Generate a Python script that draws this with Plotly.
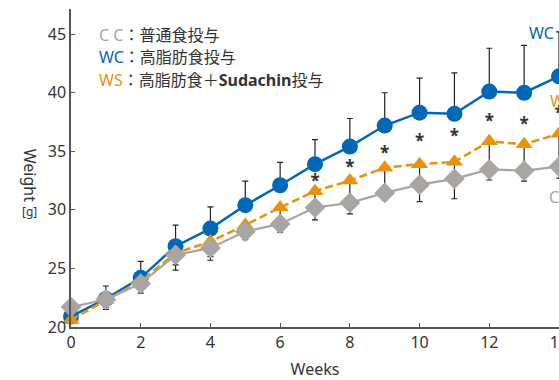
import plotly.graph_objects as go

weeks = list(range(15))

wc_mean = [20.9, 22.4, 24.2, 26.9, 28.4, 30.4, 32.1, 33.9, 35.4, 37.2, 38.3, 38.2, 40.1, 40.0, 41.4]
wc_err = [0.4, 1.1, 1.4, 1.8, 1.85, 2.05, 1.95, 2.1, 2.4, 2.8, 2.95, 3.5, 3.7, 4.05, 3.8]

ws_mean = [20.6, 22.3, 23.9, 26.3, 27.3, 28.7, 30.2, 31.6, 32.5, 33.6, 33.9, 34.1, 35.85, 35.6, 36.5]
ws_err = [0.3, 0.6, 0.7, 1.0, 1.3, 1.05, 1.3, 1.35, 1.7, 2.0, 1.6, 1.4, 2.3, 2.2, 2.7]

cc_mean = [21.7, 22.35, 23.7, 26.15, 26.75, 28.15, 28.8, 30.2, 30.6, 31.45, 32.15, 32.65, 33.45, 33.35, 33.7]
cc_err = [0.3, 0.85, 0.8, 1.3, 1.05, 0.7, 0.7, 1.05, 0.95, 0.6, 1.45, 1.7, 0.9, 0.9, 1.0]

sig_weeks = [7, 8, 9, 10, 11, 12, 13, 14]
sig_y = [32.3, 33.5, 34.7, 35.75, 36.15, 37.4, 37.2, 38.1]

y_ticks = [20, 25, 30, 35, 40, 45]
x_ticks = [0, 2, 4, 6, 8, 10, 12, 14]

legend_lines = [
    ("C C", "#a9a5a3", "：普通食投与"),
    ("WC", "#0068b7", "：高脂肪食投与"),
    ("WS", "#eb920d", "：高脂肪食＋<b>Sudachin</b>投与"),
]

BLUE = "#0068b7"
ORANGE = "#eb920d"
GRAY = "#a9a5a3"
TXT = "#333333"
FONT = "Noto Sans, Noto Sans CJK JP, sans-serif"

W, H = 559, 380
L, R, T, B = 70.7, 0, 9.3, 53.3
PW = W - L - R
PH = H - T - B


def px(x):
    return (x - L) / PW


def py(y):
    return (H - B - y) / PH


fig = go.Figure()

fig.add_trace(go.Scatter(
    x=weeks, y=wc_mean, mode="lines+markers",
    line=dict(color=BLUE, width=2.5),
    marker=dict(symbol="circle", size=16, color=BLUE),
    error_y=dict(type="data", array=wc_err, arrayminus=[0] * len(wc_err),
                 symmetric=False, color="#222", thickness=1.2, width=3),
    cliponaxis=False, showlegend=False,
))
fig.add_trace(go.Scatter(
    x=weeks, y=ws_mean, mode="lines+markers",
    line=dict(color=ORANGE, width=2.5, dash="8px,4px"),
    marker=dict(symbol="triangle-up", size=15, color=ORANGE),
    error_y=dict(type="data", array=[0] * len(ws_err), arrayminus=ws_err,
                 symmetric=False, color="#222", thickness=1.2, width=3),
    cliponaxis=False, showlegend=False,
))
fig.add_trace(go.Scatter(
    x=weeks, y=cc_mean, mode="lines+markers",
    line=dict(color=GRAY, width=2.2),
    marker=dict(symbol="diamond", size=16, color=GRAY),
    error_y=dict(type="data", array=[0] * len(cc_err), arrayminus=cc_err,
                 symmetric=False, color="#222", thickness=1.2, width=3),
    cliponaxis=False, showlegend=False,
))
fig.add_trace(go.Scatter(
    x=sig_weeks, y=sig_y, mode="text", text=["<b>*</b>"] * len(sig_weeks),
    textposition="middle center",
    textfont=dict(size=17, color=TXT, family=FONT),
    cliponaxis=False, showlegend=False, hoverinfo="skip",
))

annotations = []
for i, (abbr, col, rest) in enumerate(legend_lines):
    annotations.append(dict(
        xref="paper", yref="paper", x=px(97), y=py(35 + i * 22.5),
        xanchor="left", yanchor="middle", showarrow=False,
        text=f"<span style='color:{col}'>{abbr}</span>{rest}",
        font=dict(size=16, color=TXT, family=FONT),
    ))

# series labels at the right end
annotations.append(dict(xref="x", yref="y", x=13.08, y=45.1, xanchor="left", yanchor="middle",
                        showarrow=False, text="WC", font=dict(size=16, color=BLUE, family=FONT)))
annotations.append(dict(xref="x", yref="y", x=13.68, y=39.3, xanchor="left", yanchor="middle",
                        showarrow=False, text="WS", font=dict(size=16, color=ORANGE, family=FONT)))
annotations.append(dict(xref="x", yref="y", x=13.65, y=31.1, xanchor="left", yanchor="middle",
                        showarrow=False, text="CC", font=dict(size=16, color=GRAY, family=FONT)))

# y axis title
annotations.append(dict(xref="paper", yref="paper", x=px(30), y=py(175), xanchor="center", yanchor="middle",
                        showarrow=False, text="Weight", textangle=90,
                        font=dict(size=16, color=TXT, family=FONT)))
annotations.append(dict(xref="paper", yref="paper", x=px(29), y=py(211), xanchor="center", yanchor="middle",
                        showarrow=False, text="[g]",
                        font=dict(size=12, color=TXT, family=FONT)))

fig.update_layout(
    width=W, height=H,
    margin=dict(l=L, r=R, t=T, b=B, pad=0, autoexpand=False),
    paper_bgcolor="white", plot_bgcolor="white",
    font=dict(family=FONT, color=TXT, size=16),
    annotations=annotations,
    xaxis=dict(range=[0, 14], tickvals=x_ticks, ticks="inside", ticklen=4, tickwidth=1,
               tickcolor="#555", showline=True, linecolor="#555", linewidth=1.5,
               showgrid=False, zeroline=False, ticklabeloverflow="allow", automargin=False,
               tickfont=dict(size=16, color=TXT),
               title=dict(text="Weeks", font=dict(size=16, color=TXT), standoff=12)),
    yaxis=dict(range=[20, 47.15], tickvals=y_ticks, ticks="inside", ticklen=4, tickwidth=1,
               tickcolor="#555", showline=True, linecolor="#555", linewidth=1.5,
               showgrid=False, zeroline=False, automargin=False,
               tickfont=dict(size=16, color=TXT)),
)

fig.write_html(
    "out.html",
    config={"displayModeBar": False},
    post_script="document.body.style.margin='0';document.body.style.overflow='hidden';",
)
